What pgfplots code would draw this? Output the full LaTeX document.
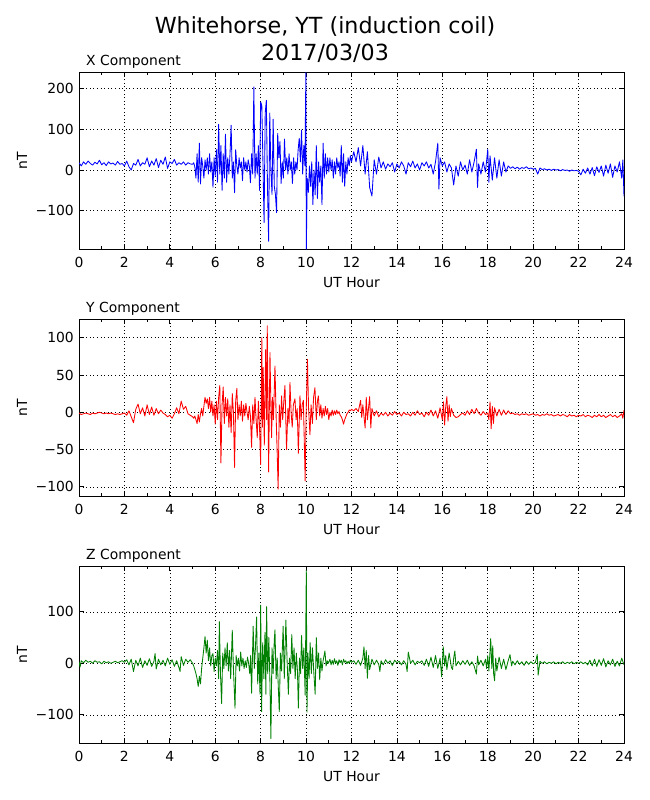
\documentclass[border=0pt]{standalone}
\usepackage{fontspec}
\setmainfont{DejaVu Sans}
\usepackage{pgfplots}
\pgfplotsset{compat=1.18}
\definecolor{mplblue}{rgb}{0,0,1}
\definecolor{mplred}{rgb}{1,0,0}
\definecolor{mplgreen}{rgb}{0,0.5,0}
\newcommand{\lab}{\fontsize{13.9bp}{16bp}\selectfont}
\pgfplotsset{
  panel/.style={
    width=545bp, height=177bp, scale only axis, anchor=south west,
    xmin=0, xmax=24,
    xtick={0,2,4,6,8,10,12,14,16,18,20,22,24},
    xticklabels={0,2,4,6,8,10,12,14,16,18,20,22,24},
    minor xtick={1,3,5,7,9,11,13,15,17,19,21,23},
    xmajorgrids, ymajorgrids,
    major grid style={black, line width=0.6bp, dash pattern=on 1bp off 2.6bp},
    axis line style={black, line width=1bp},
    tick style={black, line width=0.8bp},
    major tick length=5bp, minor tick length=3bp,
    tick label style={font=\lab, inner sep=0pt},
    xticklabel style={anchor=base, yshift=-18bp},
    yticklabel style={anchor=east, xshift=-5bp},
    xlabel={UT Hour}, ylabel={nT},
    xlabel style={font=\lab, at={(axis description cs:0.5,0)}, anchor=base, yshift=-38bp},
    ylabel style={font=\lab, at={(axis description cs:-0.0954,0.5)}, anchor=base},
    every axis plot/.append style={line width=0.85bp, line join=round},
  }
}
\begin{document}
\begin{tikzpicture}
\path[use as bounding box] (0bp,0bp) rectangle (650bp,800bp);
\node[anchor=base, font=\fontsize{22.2bp}{27bp}\selectfont] at (325bp,766.5bp) {Whitehorse, YT (induction coil)};
\node[anchor=base, font=\fontsize{22.2bp}{27bp}\selectfont] at (325bp,739bp) {2017/03/03};
\node[anchor=base west, font=\lab, inner sep=0pt] at (86bp,734.5bp) {X Component};
\node[anchor=base west, font=\lab, inner sep=0pt] at (86bp,487.5bp) {Y Component};
\node[anchor=base west, font=\lab, inner sep=0pt] at (86bp,240.5bp) {Z Component};

% ---------- X component ----------
\begin{axis}[panel, at={(79bp,550.5bp)}, ymin=-195.3, ymax=239.6,
  ytick={-100,0,100,200}, yticklabels={−100,0,100,200}]
\addplot[mplblue] table[row sep=\\] {
x y\\
0 18\\ 0.1 10\\ 0.2 20\\ 0.3 14\\ 0.4 22\\ 0.5 16\\ 0.6 12\\ 0.7 19\\ 0.8 15\\ 0.9 24\\
1.0 13\\ 1.1 18\\ 1.2 11\\ 1.3 20\\ 1.4 15\\ 1.5 17\\ 1.6 12\\ 1.7 21\\ 1.8 14\\ 1.9 16\\
2.0 10\\ 2.1 22\\ 2.2 8\\ 2.3 0\\ 2.4 16\\ 2.5 12\\ 2.6 26\\ 2.7 10\\ 2.8 18\\ 2.9 14\\
3.0 30\\ 3.1 8\\ 3.2 22\\ 3.3 12\\ 3.4 28\\ 3.5 6\\ 3.6 24\\ 3.7 14\\ 3.8 32\\ 3.9 4\\
4.0 20\\ 4.1 16\\ 4.2 26\\ 4.3 12\\ 4.4 18\\ 4.5 14\\ 4.6 20\\ 4.7 12\\ 4.8 18\\ 4.9 15\\
5.00 14\\ 5.05 18\\ 5.10 8\\ 5.15 -20\\ 5.20 40\\ 5.25 -30\\ 5.30 66\\ 5.35 -34\\ 5.40 30\\ 5.45 10\\
5.50 -20\\ 5.55 25\\ 5.60 0\\ 5.65 30\\ 5.70 -10\\ 5.75 40\\ 5.80 -5\\ 5.85 20\\ 5.90 -42\\ 5.95 30\\
6.00 -15\\ 6.05 50\\ 6.10 -30\\ 6.15 112\\ 6.20 -10\\ 6.25 60\\ 6.30 -50\\ 6.35 40\\ 6.40 -20\\ 6.45 88\\
6.50 -30\\ 6.55 30\\ 6.60 -10\\ 6.65 40\\ 6.70 110\\ 6.75 -20\\ 6.80 20\\ 6.85 -56\\ 6.90 50\\ 6.95 10\\
7.00 -10\\ 7.05 30\\ 7.10 5\\ 7.15 20\\ 7.20 -26\\ 7.25 30\\ 7.30 0\\ 7.35 20\\ 7.40 -5\\ 7.45 25\\
7.50 10\\ 7.55 -31\\ 7.60 40\\ 7.65 -10\\ 7.70 204\\ 7.75 -20\\ 7.80 40\\ 7.85 -10\\ 7.90 60\\ 7.95 -50\\
8.00 167\\ 8.05 159\\ 8.10 20\\ 8.15 -129\\ 8.20 140\\ 8.25 171\\ 8.30 -40\\ 8.35 -175\\ 8.40 140\\ 8.45 0\\
8.50 -60\\ 8.55 125\\ 8.60 -40\\ 8.65 -60\\ 8.70 -105\\ 8.75 90\\ 8.80 30\\ 8.85 70\\ 8.90 -33\\ 8.95 20\\
9.00 -20\\ 9.05 76\\ 9.10 0\\ 9.15 30\\ 9.20 -10\\ 9.25 40\\ 9.30 0\\ 9.35 20\\ 9.40 -33\\ 9.45 30\\
9.50 -10\\ 9.55 20\\ 9.60 0\\ 9.65 50\\ 9.70 78\\ 9.75 20\\ 9.80 98\\ 9.85 -10\\ 9.90 60\\ 9.95 10\\
9.99 239\\ 10.01 -195\\ 10.05 -20\\ 10.10 -55\\ 10.15 10\\ 10.20 -40\\ 10.25 20\\ 10.30 -85\\ 10.35 0\\ 10.40 -61\\
10.45 60\\ 10.50 -70\\ 10.55 20\\ 10.60 -30\\ 10.65 10\\ 10.70 -85\\ 10.75 66\\ 10.80 -20\\ 10.85 40\\ 10.90 -10\\
10.95 30\\ 11.00 -5\\ 11.05 30\\ 11.10 0\\ 11.15 25\\ 11.20 -20\\ 11.25 20\\ 11.30 -10\\ 11.35 30\\ 11.40 5\\
11.45 20\\ 11.50 -15\\ 11.55 60\\ 11.60 -30\\ 11.65 40\\ 11.70 -40\\ 11.75 20\\ 11.80 -10\\ 11.85 30\\ 11.90 10\\
11.95 35\\ 12.00 20\\
12.1 45\\ 12.2 20\\ 12.3 55\\ 12.4 10\\ 12.5 60\\ 12.6 -10\\ 12.7 45\\ 12.8 -43\\ 12.9 -64\\ 13.0 25\\
13.1 -10\\ 13.2 32\\ 13.3 5\\ 13.4 20\\ 13.5 2\\ 13.6 15\\ 13.7 8\\ 13.8 18\\ 13.9 -5\\ 14.0 15\\
14.1 5\\ 14.2 20\\ 14.3 10\\ 14.4 -10\\ 14.5 18\\ 14.6 8\\ 14.7 22\\ 14.8 5\\ 14.9 15\\ 15.0 0\\
15.1 18\\ 15.2 10\\ 15.3 20\\ 15.4 5\\ 15.5 14\\ 15.6 -10\\ 15.7 20\\ 15.8 66\\ 15.85 -47\\ 15.9 30\\
16.0 10\\ 16.1 20\\ 16.2 -5\\ 16.3 15\\ 16.4 5\\ 16.5 -37\\ 16.6 10\\ 16.7 -15\\ 16.8 20\\ 16.9 0\\
17.0 12\\ 17.1 -10\\ 17.2 25\\ 17.3 -5\\ 17.4 20\\ 17.5 51\\ 17.55 -43\\ 17.6 15\\ 17.7 -10\\ 17.8 20\\
17.9 -5\\ 18.0 51\\ 18.05 -30\\ 18.1 35\\ 18.2 -25\\ 18.3 30\\ 18.4 -20\\ 18.5 25\\ 18.6 -15\\ 18.7 20\\
18.8 -5\\ 18.9 10\\ 19.0 4\\ 19.1 8\\ 19.2 3\\ 19.3 7\\ 19.4 2\\ 19.5 6\\ 19.6 4\\ 19.7 8\\
19.8 3\\ 19.9 5\\ 20.0 2\\ 20.1 4\\ 20.2 -10\\ 20.3 5\\ 20.4 1\\ 20.5 3\\ 20.6 0\\ 20.7 2\\
20.8 -1\\ 20.9 2\\ 21.0 0\\ 21.1 1\\ 21.2 -2\\ 21.3 1\\ 21.4 -1\\ 21.5 0\\ 21.6 -3\\ 21.7 0\\
21.8 -2\\ 21.9 -1\\ 22.0 -3\\ 22.1 -12\\ 22.2 2\\ 22.3 -8\\ 22.4 5\\ 22.5 -10\\ 22.6 6\\ 22.7 -14\\
22.8 8\\ 22.9 -6\\ 23.0 10\\ 23.1 -15\\ 23.2 12\\ 23.3 -8\\ 23.4 15\\ 23.5 -18\\ 23.6 10\\ 23.7 -5\\
23.8 20\\ 23.9 -20\\ 23.95 25\\ 24.0 -65\\
};
\end{axis}

% ---------- Y component ----------
\begin{axis}[panel, at={(79bp,303.5bp)}, ymin=-112.9, ymax=124.4,
  ytick={-100,-50,0,50,100}, yticklabels={−100,−50,0,50,100}]
\addplot[mplred] table[row sep=\\] {
x y\\
0.0 -1\\ 0.1 -3\\ 0.2 -2\\ 0.3 -1\\ 0.4 -2\\ 0.5 -3\\ 0.6 -1\\ 0.7 -2\\ 0.8 -1\\ 0.9 0\\
1.0 -1\\ 1.1 -2\\ 1.2 -1\\ 1.3 -2\\ 1.4 -1\\ 1.5 -2\\ 1.6 -3\\ 1.7 -2\\ 1.8 -3\\ 1.9 -2\\
2.0 -1\\ 2.1 -4\\ 2.2 2\\ 2.3 -6\\ 2.4 -14\\ 2.5 4\\ 2.6 11\\ 2.7 -2\\ 2.8 6\\ 2.9 -5\\
3.0 10\\ 3.1 -3\\ 3.2 7\\ 3.3 -4\\ 3.4 5\\ 3.5 -2\\ 3.6 3\\ 3.7 -1\\ 3.8 -3\\ 3.9 -6\\
4.0 -4\\ 4.1 -8\\ 4.2 -2\\ 4.3 6\\ 4.4 -2\\ 4.5 15\\ 4.6 4\\ 4.7 8\\ 4.8 -2\\ 4.9 -4\\
5.0 -6\\ 5.05 -8\\ 5.10 -5\\ 5.15 -10\\ 5.20 -15\\ 5.25 -3\\ 5.30 -13\\ 5.35 -2\\ 5.40 5\\ 5.45 -5\\
5.50 8\\ 5.55 20\\ 5.60 12\\ 5.65 18\\ 5.70 5\\ 5.75 20\\ 5.80 0\\ 5.85 15\\ 5.90 -5\\ 5.95 10\\
6.00 -16\\ 6.05 15\\ 6.10 -10\\ 6.15 20\\ 6.20 36\\ 6.25 -68\\ 6.30 10\\ 6.35 34\\ 6.40 -15\\ 6.45 20\\
6.50 -5\\ 6.55 18\\ 6.60 -20\\ 6.65 10\\ 6.70 -27\\ 6.75 25\\ 6.80 0\\ 6.85 -74\\ 6.90 15\\ 6.95 32\\
7.00 -10\\ 7.05 10\\ 7.10 -5\\ 7.15 15\\ 7.20 -12\\ 7.25 10\\ 7.30 -5\\ 7.35 12\\ 7.40 0\\ 7.45 -10\\
7.50 8\\ 7.55 -5\\ 7.60 -47\\ 7.65 10\\ 7.70 -15\\ 7.75 20\\ 7.80 -10\\ 7.85 -34\\ 7.90 15\\ 7.95 -20\\
8.00 -70\\ 8.05 100\\ 8.08 -20\\ 8.11 60\\ 8.16 -44\\ 8.22 84\\ 8.26 -10\\ 8.29 116\\ 8.35 -80\\ 8.41 80\\
8.45 10\\ 8.48 -34\\ 8.52 20\\ 8.56 -10\\ 8.60 30\\ 8.63 62\\ 8.68 -5\\ 8.72 -46\\ 8.77 -103\\ 8.82 10\\
8.87 -20\\ 8.92 22\\ 8.97 -10\\ 9.02 15\\ 9.07 36\\ 9.14 -50\\ 9.20 5\\ 9.25 -15\\ 9.29 40\\ 9.34 0\\
9.39 -20\\ 9.44 10\\ 9.51 18\\ 9.56 -10\\ 9.61 5\\ 9.66 -55\\ 9.73 22\\ 9.78 -10\\ 9.83 10\\ 9.88 16\\
9.96 -92\\ 10.00 -5\\ 10.06 71\\ 10.11 5\\ 10.17 -30\\ 10.22 10\\ 10.28 -15\\ 10.33 20\\ 10.39 33\\ 10.45 -10\\
10.50 15\\ 10.54 22\\ 10.60 -5\\ 10.65 10\\ 10.70 -8\\ 10.75 5\\ 10.80 -5\\ 10.85 8\\ 10.90 -3\\ 10.95 5\\
11.00 -10\\ 11.05 0\\ 11.10 -5\\ 11.15 3\\ 11.20 -4\\ 11.25 2\\ 11.30 -3\\ 11.35 3\\ 11.40 -2\\ 11.45 1\\
11.50 -4\\ 11.55 -6\\ 11.60 -10\\ 11.65 -16\\ 11.70 -10\\ 11.75 -6\\ 11.80 -2\\ 11.85 0\\ 11.90 3\\ 11.95 2\\
12.00 4\\ 12.1 2\\ 12.2 5\\ 12.3 1\\ 12.4 16\\ 12.45 -7\\ 12.5 10\\ 12.6 -21\\ 12.65 20\\ 12.7 -10\\
12.8 21\\ 12.85 -21\\ 12.9 5\\ 13.0 -5\\ 13.1 2\\ 13.2 -6\\ 13.3 -1\\ 13.4 -4\\ 13.5 0\\ 13.6 -5\\
13.7 -1\\ 13.8 -4\\ 13.9 1\\ 14.0 -3\\ 14.1 -1\\ 14.2 -5\\ 14.3 0\\ 14.4 -3\\ 14.5 -2\\ 14.6 -5\\
14.7 0\\ 14.8 -4\\ 14.9 2\\ 15.0 -3\\ 15.1 -1\\ 15.2 -6\\ 15.3 0\\ 15.4 -4\\ 15.5 3\\ 15.6 -5\\
15.7 2\\ 15.8 -8\\ 15.9 6\\ 16.0 -10\\ 16.05 14\\ 16.1 -17\\ 16.15 8\\ 16.2 21\\ 16.25 -12\\ 16.3 10\\
16.35 -6\\ 16.4 5\\ 16.5 -4\\ 16.6 -7\\ 16.7 -6\\ 16.8 -3\\ 16.9 -1\\ 17.0 -4\\ 17.1 2\\ 17.2 -3\\
17.3 4\\ 17.4 -2\\ 17.5 5\\ 17.6 -1\\ 17.7 -4\\ 17.8 1\\ 17.9 -3\\ 18.0 -1\\ 18.05 -10\\ 18.1 14\\
18.15 -22\\ 18.2 8\\ 18.25 -15\\ 18.3 6\\ 18.4 -5\\ 18.5 4\\ 18.6 -4\\ 18.7 3\\ 18.8 -3\\ 18.9 2\\
19.0 -2\\ 19.1 -1\\ 19.2 -3\\ 19.3 -2\\ 19.4 -4\\ 19.5 -2\\ 19.6 -3\\ 19.7 -2\\ 19.8 -4\\ 19.9 -3\\
20.0 -2\\ 20.1 -4\\ 20.2 -3\\ 20.3 -5\\ 20.4 -3\\ 20.5 -4\\ 20.6 -2\\ 20.7 -4\\ 20.8 -3\\ 20.9 -5\\
21.0 -4\\ 21.1 -3\\ 21.2 -5\\ 21.3 -3\\ 21.4 -4\\ 21.5 -6\\ 21.6 -3\\ 21.7 -5\\ 21.8 -4\\ 21.9 -6\\
22.0 -4\\ 22.1 -5\\ 22.2 -3\\ 22.3 -6\\ 22.4 -4\\ 22.5 -5\\ 22.6 -7\\ 22.7 -4\\ 22.8 -6\\ 22.9 -3\\
23.0 -6\\ 23.1 -4\\ 23.2 -7\\ 23.3 -5\\ 23.4 -3\\ 23.5 -6\\ 23.6 -4\\ 23.7 -7\\ 23.8 -5\\ 23.9 -2\\
23.95 -8\\ 24.0 3\\
};
\end{axis}

% ---------- Z component ----------
\begin{axis}[panel, at={(79bp,56.5bp)}, ymin=-155.7, ymax=188,
  ytick={-100,0,100}, yticklabels={−100,0,100}]
\addplot[mplgreen] table[row sep=\\] {
x y\\
0.0 3\\ 0.05 -7\\ 0.1 5\\ 0.2 1\\ 0.3 6\\ 0.4 2\\ 0.5 4\\ 0.6 0\\ 0.7 5\\ 0.8 2\\
0.9 3\\ 1.0 -1\\ 1.1 4\\ 1.2 1\\ 1.3 3\\ 1.4 0\\ 1.5 2\\ 1.6 4\\ 1.7 1\\ 1.8 3\\
1.9 5\\ 2.0 2\\ 2.1 7\\ 2.2 -3\\ 2.3 8\\ 2.4 -16\\ 2.5 6\\ 2.6 -5\\ 2.7 10\\ 2.8 -8\\
2.9 5\\ 3.0 -4\\ 3.1 9\\ 3.2 -6\\ 3.3 4\\ 3.35 19\\ 3.4 -11\\ 3.5 8\\ 3.6 -3\\ 3.7 6\\
3.8 -5\\ 3.9 10\\ 4.0 -2\\ 4.1 7\\ 4.2 -6\\ 4.3 5\\ 4.4 -8\\ 4.45 -16\\ 4.5 13\\ 4.6 -4\\
4.7 8\\ 4.8 2\\ 4.9 7\\ 5.0 0\\ 5.05 -5\\ 5.10 -12\\ 5.15 -20\\ 5.20 -30\\ 5.25 -45\\ 5.30 -25\\
5.35 -40\\ 5.40 -10\\ 5.45 10\\ 5.50 30\\ 5.55 52\\ 5.60 20\\ 5.65 45\\ 5.70 5\\ 5.75 30\\ 5.80 -5\\
5.85 15\\ 5.90 19\\ 5.95 -16\\ 6.00 10\\ 6.05 -5\\ 6.10 25\\ 6.15 -30\\ 6.18 81\\ 6.23 -20\\ 6.28 -78\\
6.33 20\\ 6.38 -10\\ 6.43 30\\ 6.48 -5\\ 6.53 40\\ 6.58 -15\\ 6.63 25\\ 6.68 -30\\ 6.75 64\\ 6.80 -10\\
6.87 -87\\ 6.92 15\\ 6.97 -5\\ 7.02 10\\ 7.07 -15\\ 7.12 22\\ 7.17 -5\\ 7.22 10\\ 7.27 -10\\ 7.32 5\\
7.37 -8\\ 7.42 12\\ 7.47 0\\ 7.52 -20\\ 7.56 15\\ 7.60 -58\\ 7.67 72\\ 7.72 -10\\ 7.77 30\\ 7.82 90\\
7.87 -40\\ 7.92 20\\ 7.97 -60\\ 8.00 113\\ 8.04 -94\\ 8.09 40\\ 8.14 -30\\ 8.19 60\\ 8.23 -60\\ 8.26 110\\
8.31 -20\\ 8.36 50\\ 8.41 -40\\ 8.45 -146\\ 8.50 30\\ 8.55 -20\\ 8.60 45\\ 8.63 65\\ 8.68 -30\\ 8.73 10\\
8.78 -50\\ 8.82 -94\\ 8.87 20\\ 8.92 -15\\ 8.99 72\\ 9.04 -30\\ 9.11 84\\ 9.16 10\\ 9.22 -60\\ 9.27 10\\
9.32 -20\\ 9.37 56\\ 9.42 -10\\ 9.47 30\\ 9.52 -30\\ 9.57 20\\ 9.62 -15\\ 9.66 -87\\ 9.71 10\\ 9.76 -20\\
9.80 54\\ 9.85 -10\\ 9.90 30\\ 9.96 -62\\ 10.01 181\\ 10.04 -95\\ 10.08 20\\ 10.13 -30\\ 10.18 40\\ 10.23 -20\\
10.28 30\\ 10.33 -10\\ 10.40 -60\\ 10.45 50\\ 10.50 -10\\ 10.55 20\\ 10.60 -32\\ 10.65 10\\ 10.70 -15\\ 10.75 5\\
10.83 24\\ 10.88 -5\\ 10.93 5\\ 10.98 0\\ 11.05 8\\ 11.10 -3\\ 11.15 6\\ 11.20 -2\\ 11.25 9\\ 11.30 0\\
11.35 5\\ 11.40 -4\\ 11.45 7\\ 11.50 1\\ 11.55 6\\ 11.60 -3\\ 11.65 8\\ 11.70 2\\ 11.75 5\\ 11.80 -1\\
11.85 4\\ 11.90 0\\ 11.95 6\\ 12.00 2\\ 12.1 5\\ 12.2 -2\\ 12.3 6\\ 12.4 -4\\ 12.5 10\\ 12.55 32\\
12.6 -10\\ 12.65 25\\ 12.7 -29\\ 12.75 15\\ 12.8 -12\\ 12.9 8\\ 13.0 -3\\ 13.1 6\\ 13.2 -2\\ 13.25 -16\\
13.3 5\\ 13.4 -3\\ 13.5 7\\ 13.6 0\\ 13.7 5\\ 13.8 -4\\ 13.9 6\\ 14.0 1\\ 14.1 4\\ 14.2 -3\\
14.3 5\\ 14.4 -2\\ 14.45 -16\\ 14.5 22\\ 14.6 0\\ 14.7 6\\ 14.8 -3\\ 14.9 4\\ 15.0 1\\ 15.1 5\\
15.2 -4\\ 15.3 8\\ 15.4 -6\\ 15.5 12\\ 15.6 -8\\ 15.7 15\\ 15.8 -10\\ 15.9 10\\ 15.97 -26\\ 16.04 32\\
16.1 -5\\ 16.15 15\\ 16.2 -12\\ 16.3 20\\ 16.4 -8\\ 16.45 -12\\ 16.5 10\\ 16.55 24\\ 16.6 -5\\ 16.7 4\\
16.8 -3\\ 16.9 5\\ 17.0 -2\\ 17.1 6\\ 17.2 -4\\ 17.3 3\\ 17.4 -5\\ 17.5 -21\\ 17.55 14\\ 17.6 -3\\
17.7 6\\ 17.8 -5\\ 17.9 8\\ 17.95 -10\\ 18.0 15\\ 18.05 -15\\ 18.13 48\\ 18.18 -10\\ 18.22 34\\ 18.26 -20\\
18.3 -34\\ 18.35 10\\ 18.4 -15\\ 18.5 12\\ 18.6 -10\\ 18.7 8\\ 18.8 -12\\ 18.9 5\\ 18.98 17\\ 19.05 -5\\
19.1 4\\ 19.2 -3\\ 19.3 5\\ 19.4 -2\\ 19.5 3\\ 19.6 -4\\ 19.7 4\\ 19.8 -2\\ 19.9 3\\ 20.0 -1\\
20.1 2\\ 20.18 17\\ 20.22 -23\\ 20.3 4\\ 20.4 0\\ 20.5 3\\ 20.6 -1\\ 20.7 2\\ 20.8 0\\ 20.9 3\\
21.0 -1\\ 21.1 2\\ 21.2 0\\ 21.3 3\\ 21.4 -1\\ 21.5 2\\ 21.6 0\\ 21.7 3\\ 21.8 -1\\ 21.9 2\\
22.0 0\\ 22.1 3\\ 22.2 -1\\ 22.3 2\\ 22.4 -3\\ 22.5 6\\ 22.6 -5\\ 22.7 8\\ 22.8 -6\\ 22.9 7\\
23.0 -4\\ 23.1 9\\ 23.2 -7\\ 23.3 5\\ 23.4 -3\\ 23.5 8\\ 23.6 -6\\ 23.7 4\\ 23.8 -5\\ 23.9 10\\
24.0 -3\\
};
\end{axis}
\end{tikzpicture}
\end{document}
